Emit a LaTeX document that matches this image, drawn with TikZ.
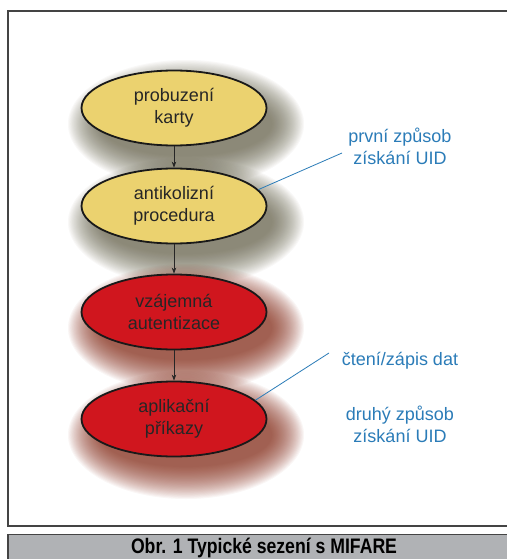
\documentclass[tikz,border=0pt]{standalone}
\usepackage{fontspec}
\setmainfont{Liberation Sans}
\newfontfamily\capfont[FakeStretch=0.84]{Liberation Sans}
\usetikzlibrary{shapes.geometric,arrows.meta}
\definecolor{yel}{HTML}{EBD26F}
\definecolor{redf}{HTML}{D0161E}
\definecolor{blu}{HTML}{2B7CB8}
\definecolor{ysh}{HTML}{66624A}
\definecolor{rsh}{HTML}{852814}
\definecolor{framec}{HTML}{444444}
\definecolor{capgray}{HTML}{B0B2B5}
\newcommand{\fuzzyshadow}[3]{%
  \foreach \i in {0,...,29} {
    \fill[#3, opacity=0.04] (#1+12,#2+16) ellipse [x radius={(118-1.1*\i)*1pt}, y radius={(64-1.1*\i)*1pt}];
  }%
}
\begin{document}
\begin{tikzpicture}[x=1pt,y=-1pt,
  stage/.style={ellipse, draw=black!90, line width=1.8pt, minimum width=185pt, minimum height=75pt,
    inner sep=0pt, align=center, font=\fontsize{18}{22}\selectfont, text=black!85},
  flow/.style={-{Stealth[length=6pt,width=4.5pt]}, line width=0.7pt, draw=black!85},
  note/.style={align=center, text=blu, font=\fontsize{18}{22}\selectfont},
  lead/.style={draw=blu, line width=0.8pt}]
\useasboundingbox (0,0) rectangle (506,559);
\fill[white] (0,0) rectangle (506,559);
\draw[framec, line width=1.5pt] (520,526) -- (8,526) -- (8,11) -- (520,11);
% shadows
\fuzzyshadow{174}{108}{ysh}
\fuzzyshadow{174}{206}{ysh}
\fuzzyshadow{174}{312}{rsh}
\fuzzyshadow{174}{419}{rsh}
% nodes
\node[stage, fill=yel] (a) at (174,108) {probuzení\\karty};
\node[stage, fill=yel] (b) at (174,206) {antikolizní\\procedura};
\node[stage, fill=redf] (c) at (174,312) {vzájemná\\autentizace};
\node[stage, fill=redf] (d) at (174,419) {aplikační\\příkazy};
\draw[flow] (a) -- (b);
\draw[flow] (b) -- (c);
\draw[flow] (c) -- (d);
% notes
\node[note] (n1) at (400,146) {první způsob\\získání UID};
\node[note] (n2) at (400,361) {čtení/zápis dat};
\node[note] (n3) at (400,424) {druhý způsob\\získání UID};
\coordinate (e1) at (342,153);
\coordinate (e2) at (329,353);
\draw[lead] (b.11) -- (e1);
\draw[lead] (d.13) -- (e2);
% caption
\draw[framec, fill=capgray, line width=1.5pt] (8,570) -- (8,534.5) -- (520,534.5) -- (520,570);
\node[font=\capfont\bfseries\fontsize{21}{24}\selectfont, text=black] (cap) at (264,548) {Obr. 1 Typické sezení s MIFARE};
\end{tikzpicture}
\end{document}
